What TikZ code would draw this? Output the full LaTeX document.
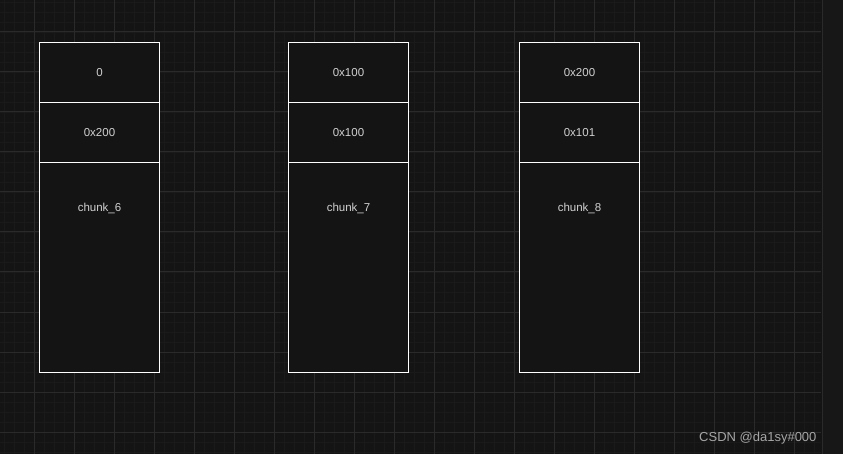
\documentclass[tikz,border=0pt]{standalone}
\usepackage{fontspec}
\setmainfont{Liberation Sans}
\definecolor{bg}{HTML}{141414}
\definecolor{minorgrid}{HTML}{1A1A1A}
\definecolor{majorgrid}{HTML}{2A2A2A}
\definecolor{txt}{HTML}{D0D0D0}
\definecolor{strip}{HTML}{171717}
\begin{document}
\begin{tikzpicture}[x=1pt,y=-1pt,
  cell/.style={draw=white, line width=1pt, fill=bg, minimum width=120pt, inner sep=0pt, text=txt, font=\fontsize{11.5}{13}\selectfont},
  lbl/.style={text=txt, font=\fontsize{11.5}{13}\selectfont}]
\fill[bg] (0,0) rectangle (843,454);
\useasboundingbox (0,0) rectangle (843,454);
% minor grid
\foreach \x in {4,14,...,821} \draw[minorgrid, line width=0.8pt] (\x,0) -- (\x,454);
\foreach \y in {2,12,...,454} \draw[minorgrid, line width=0.8pt] (0,\y) -- (821,\y);
% major grid
\foreach \x in {34,74,...,821} \draw[majorgrid, line width=1pt] (\x,0) -- (\x,454);
\foreach \y in {32,72,...,454} \draw[majorgrid, line width=1pt] (0,\y) -- (821,\y);
% right strip
\fill[strip] (822,0) rectangle (843,454);
\draw[majorgrid, line width=1pt] (822,0) -- (822,454);
% columns
\foreach \n/\xl/\a/\b/\c in {a/39/0/0x200/chunk\_6, b/288/0x100/0x100/chunk\_7, c/519/0x200/0x101/chunk\_8}{
  \node[cell, minimum height=60pt, anchor=north west] (\n top) at (\xl,42) {\a};
  \node[cell, minimum height=60pt, anchor=north west] (\n mid) at (\xl,102) {\b};
  \node[cell, minimum height=210pt, anchor=north west] (\n bot) at (\xl,162) {};
  \node[lbl] (\n lab) at ([yshift=-46.5pt]\n bot.north) {\c};
}
\node[text=white!65!black, font=\fontsize{13}{15}\selectfont, anchor=east] (wm) at (820,438) {CSDN @da1sy\#000};
\end{tikzpicture}
\end{document}
